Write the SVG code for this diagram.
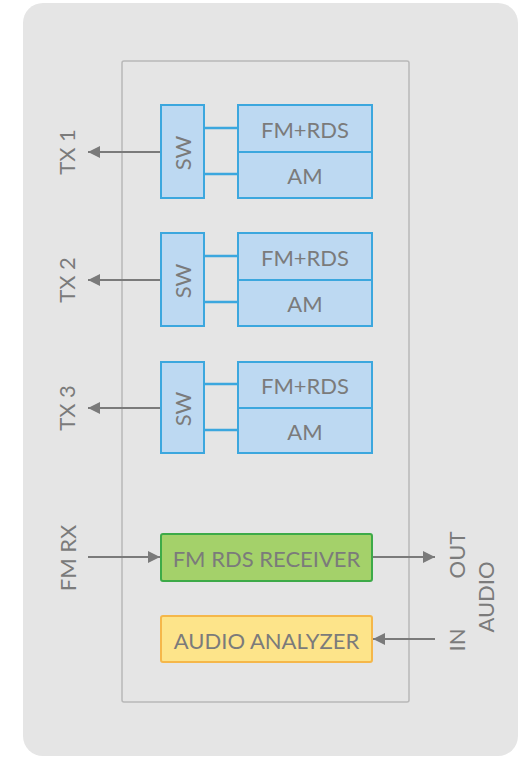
<svg xmlns="http://www.w3.org/2000/svg" width="521" height="757" viewBox="0 0 521 757">
<style>
text{font-family:Lato,"Open Sans","Liberation Sans",sans-serif;font-weight:400;fill:#7b7b7b;font-size:22px;text-anchor:middle;dominant-baseline:central}
.blue{fill:#bdd9f2;stroke:#3ca7de;stroke-width:2}
.bl{stroke:#3ca7de;stroke-width:2.5;fill:none}
.conn{stroke:#7a7a7a;stroke-width:2;fill:none}
</style>
<defs>
<marker id="ah" viewBox="0 0 12 12" refX="12" refY="6" markerWidth="12" markerHeight="12" markerUnits="userSpaceOnUse" orient="auto">
<path d="M0,0 L12,6 L0,12 Z" fill="#7a7a7a"/>
</marker>
</defs>
<rect x="23" y="3" width="495" height="753" rx="20" fill="#e5e5e5"/>
<rect id="frame" x="122" y="61" width="287" height="641" rx="2" fill="none" stroke="#b8b8b8" stroke-width="1.5"/>
<g id="connectors">
<line class="conn" x1="161" y1="152" x2="88" y2="152" marker-end="url(#ah)"/>
<line class="conn" x1="161" y1="280" x2="88" y2="280" marker-end="url(#ah)"/>
<line class="conn" x1="161" y1="408" x2="88" y2="408" marker-end="url(#ah)"/>
<line class="conn" x1="88" y1="557" x2="160" y2="557" marker-end="url(#ah)"/>
<line class="conn" x1="372" y1="557" x2="435" y2="557" marker-end="url(#ah)"/>
<line class="conn" x1="435" y1="639" x2="373" y2="639" marker-end="url(#ah)"/>
<line class="bl" x1="204" y1="128" x2="238" y2="128"/>
<line class="bl" x1="204" y1="174" x2="238" y2="174"/>
<line class="bl" x1="204" y1="256" x2="238" y2="256"/>
<line class="bl" x1="204" y1="302" x2="238" y2="302"/>
<line class="bl" x1="204" y1="384" x2="238" y2="384"/>
<line class="bl" x1="204" y1="430" x2="238" y2="430"/>
</g>
<g id="tx1">
<text transform="translate(66,152) rotate(-90)">TX 1</text>
<rect class="blue" x="161" y="105" width="43" height="93"/>
<text transform="translate(182.5,153) rotate(-90)">SW</text>
<rect class="blue" x="238" y="105" width="134" height="47"/>
<rect class="blue" x="238" y="152" width="134" height="46"/>
<text x="305" y="129">FM+RDS</text>
<text x="305" y="175">AM</text>
</g>
<g id="tx2">
<text transform="translate(66,280) rotate(-90)">TX 2</text>
<rect class="blue" x="161" y="233" width="43" height="93"/>
<text transform="translate(182.5,281) rotate(-90)">SW</text>
<rect class="blue" x="238" y="233" width="134" height="47"/>
<rect class="blue" x="238" y="280" width="134" height="46"/>
<text x="305" y="257">FM+RDS</text>
<text x="305" y="303">AM</text>
</g>
<g id="tx3">
<text transform="translate(66,408) rotate(-90)">TX 3</text>
<rect class="blue" x="161" y="362" width="43" height="91"/>
<text transform="translate(182.5,409) rotate(-90)">SW</text>
<rect class="blue" x="238" y="362" width="134" height="46"/>
<rect class="blue" x="238" y="408" width="134" height="45"/>
<text x="305" y="385">FM+RDS</text>
<text x="305" y="431">AM</text>
</g>
<g id="fmrx">
<text transform="translate(67,558) rotate(-90)">FM RX</text>
</g>
<g id="receiver">
<rect x="161" y="534" width="211" height="47" rx="2" fill="#a4d16a" stroke="#3daa48" stroke-width="2"/>
<text x="266.5" y="558">FM RDS RECEIVER</text>
</g>
<g id="analyzer">
<rect x="161" y="616" width="211" height="46" rx="2" fill="#fde48a" stroke="#f5b74a" stroke-width="2"/>
<text x="266.5" y="640">AUDIO ANALYZER</text>
</g>
<g id="audio">
<text transform="translate(456,555) rotate(-90)">OUT</text>
<text transform="translate(456,640) rotate(-90)">IN</text>
<text transform="translate(485,597) rotate(-90)">AUDIO</text>
</g>
</svg>
